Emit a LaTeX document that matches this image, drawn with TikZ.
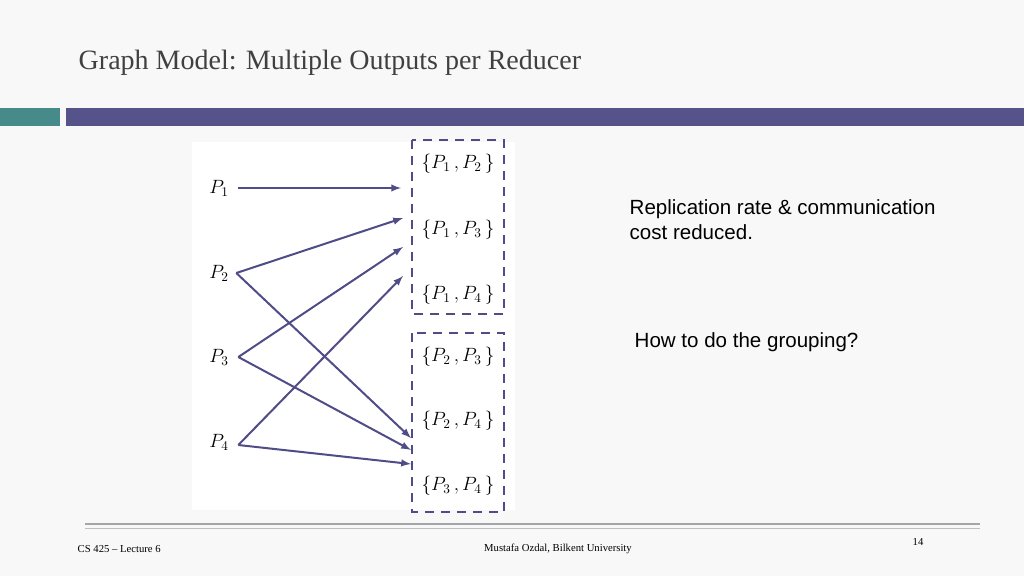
\documentclass[tikz,border=0pt]{standalone}
\usepackage{fontspec}
\setmainfont{Liberation Serif}
\newfontfamily\arialfont{Liberation Sans}
\definecolor{barpurple}{HTML}{55538A}
\definecolor{barteal}{HTML}{478A8A}
\definecolor{edgecol}{HTML}{4F4C88}
\definecolor{pagebg}{HTML}{F8F8F8}
\tikzset{
  pnode/.style={inner sep=1pt,font=\fontsize{14}{14}\selectfont},
  setnode/.style={inner sep=1pt,font=\fontsize{14}{14}\selectfont},
  edge/.style={draw=edgecol,line width=1.5pt,-latex},
  groupbox/.style={draw=edgecol,line width=1.5pt,dashed,dash pattern=on 7pt off 5pt}
}
\begin{document}
\begin{tikzpicture}[x=0.75pt,y=-0.75pt]
\useasboundingbox (0,0) rectangle (1024,576);
\fill[pagebg] (0,0) rectangle (1024,576);
%header
\node[anchor=west,font=\fontsize{21}{21}\selectfont,text=black!75] (title) at (74,63) {Graph Model: Multiple Outputs per Reducer};
\fill[barteal] (0,108) rectangle (60,126);
\fill[barpurple] (66,108) rectangle (1024,126);
%diagram area
\fill[white] (192,142) rectangle (515,510);
\draw[groupbox] (412,140) rectangle (504,314);
\draw[groupbox] (412,333) rectangle (504,512);

\node[pnode] (p1) at (219,188) {$P_1$};
\node[pnode] (p2) at (219,273) {$P_2$};
\node[pnode] (p3) at (219,357) {$P_3$};
\node[pnode] (p4) at (219,442) {$P_4$};

\node[setnode] (s12) at (458,164) {$\{P_1\,,P_2\,\}$};
\node[setnode] (s13) at (458,230) {$\{P_1\,,P_3\,\}$};
\node[setnode] (s14) at (458,295) {$\{P_1\,,P_4\,\}$};
\node[setnode] (s23) at (458,357) {$\{P_2\,,P_3\,\}$};
\node[setnode] (s24) at (458,421) {$\{P_2\,,P_4\,\}$};
\node[setnode] (s34) at (458,486) {$\{P_3\,,P_4\,\}$};

%arrow heads end at the box edge
\coordinate (t1) at (401,188);
\coordinate (t2) at (403,218);
\coordinate (t3) at (403,247);
\coordinate (t4) at (403,276);
\coordinate (t5) at (411,438);
\coordinate (t6) at (411,450);
\coordinate (t7) at (411,464);

\draw[edge] (p1.east) ++(8,0) -- (t1);
\draw[edge] (p2.east) ++(6,0) -- (t2);
\draw[edge] (p2.east) ++(6,0) -- (t5);
\draw[edge] (p3.east) ++(8,0) -- (t3);
\draw[edge] (p3.east) ++(8,0) -- (t6);
\draw[edge] (p4.east) ++(8,3) -- (t4);
\draw[edge] (p4.east) ++(8,3) -- (t7);

\node[anchor=north west,align=left,font=\arialfont\fontsize{15.4}{19}\selectfont] (note1) at (625,195) {Replication rate \& communication\\cost reduced.};
\node[anchor=west,font=\arialfont\fontsize{15.4}{15}\selectfont] (note2) at (630,342) {How to do the grouping?};

%footer
\draw[black!35,line width=1pt] (85,524) -- (980,524);
\draw[black!25,line width=0.6pt] (85,528) -- (980,528);
\node[font=\fontsize{8}{8}\selectfont] (page) at (918,542) {14};
\node[anchor=west,font=\fontsize{8}{8}\selectfont] (course) at (73,549) {CS 425 -- Lecture 6};
\node[font=\fontsize{8}{8}\selectfont] (author) at (558,549) {Mustafa Ozdal, Bilkent University};
\end{tikzpicture}
\end{document}
